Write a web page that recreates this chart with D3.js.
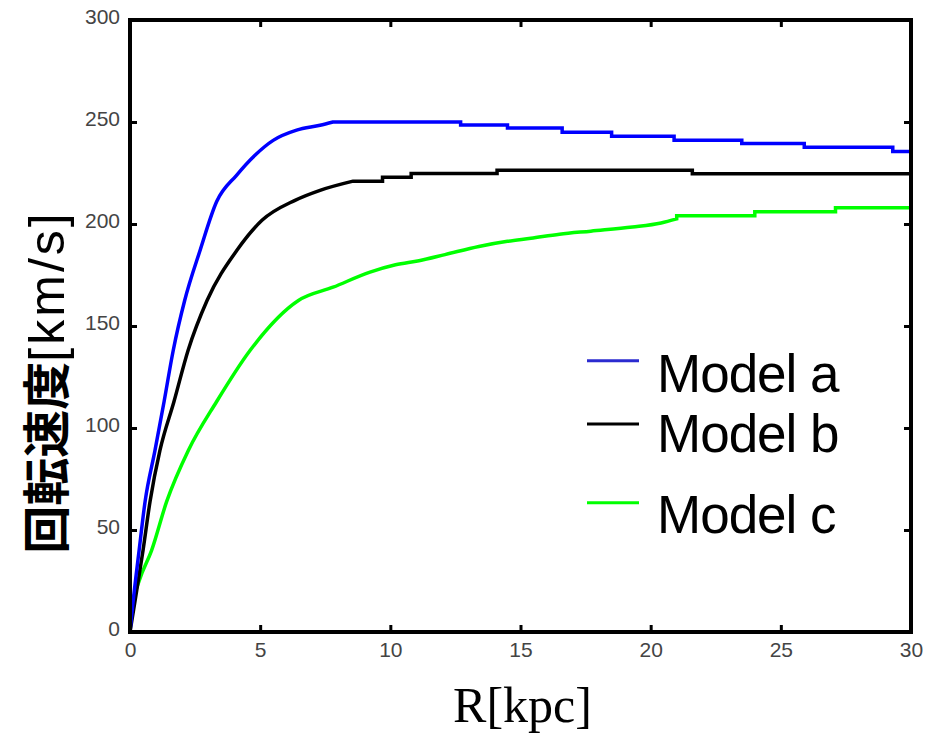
<!DOCTYPE html>
<html>
<head>
<meta charset="utf-8">
<script src="https://cdn.jsdelivr.net/npm/d3@7"></script>
<style>
  body { margin: 0; background: #fff; }
</style>
</head>
<body>
<script>
// rotation curves
// rising part (smooth) ...
var modelA_R = [0, 0.12, 0.35, 0.58, 0.96, 1.31, 1.66, 2.1, 2.69, 3.33, 4.1, 4.8, 5.5, 6.4, 7.3, 7.8];
var modelA_V = [0, 15, 40, 64, 89, 113, 138, 162.5, 187, 211, 224, 233.7, 241, 246, 248.4, 250];
// ... then the flat stepped part (each value holds until the next R)
var modelA_stepR = [7.8, 12.7, 14.5, 16.6, 18.5, 20.9, 23.5, 25.9, 29.3, 30];
var modelA_stepV = [250, 248.5, 247, 245, 243, 241, 239.5, 237.6, 235.6, 235.6];

var modelB_R = [0, 0.19, 0.5, 0.77, 1.15, 1.69, 2.23, 2.96, 4.1, 5.07, 6.34, 7.3, 8.57];
var modelB_V = [0, 15, 40, 64, 89, 113, 138, 162.5, 187, 201.8, 211.6, 216.5, 221];
var modelB_stepR = [8.57, 9.7, 10.8, 14.1, 21.6, 30];
var modelB_stepV = [221, 222.9, 224.8, 226.3, 224.6, 224.6];

var modelC_R = [0, 0.06, 0.35, 0.83, 1.41, 2.24, 3.33, 4.61, 6.47, 7.8, 9.22, 10.2, 11.1, 12.1, 13.4,
  14.5, 15.4, 16.5, 17.7, 19.3, 20.4, 21];
var modelC_V = [0, 11, 25, 40, 64, 89, 113, 138, 162.5, 169, 176.4, 180, 182, 185, 189,
  191.5, 193, 195, 196.5, 198.5, 200.5, 202.5];
var modelC_stepR = [21, 24, 27.1, 30];
var modelC_stepV = [204, 206, 208, 208];

var xTicks = [0, 5, 10, 15, 20, 25, 30];
var yTicks = [0, 50, 100, 150, 200, 250, 300];
var legendNames = ["Model a", "Model b", "Model c"];
var lineColors = ["#0000ff", "#000000", "#00ff00"];
var legendColors = ["#2b2bd0", "#000000", "#00ff00"];

const W = 930, H = 737;
const margin = {top: 20, right: 19, bottom: 105, left: 130},
      width = W - margin.left - margin.right,
      height = H - margin.top - margin.bottom;

var svg = d3.select("body").append("svg")
  .attr("width", W)
  .attr("height", H)
  .append("g")
  .attr("transform", "translate(" + margin.left + "," + margin.top + ")");

var x = d3.scaleLinear().domain([0, 30]).range([0, width]);
var y = d3.scaleLinear().domain([0, 300]).range([height, 0]);

var tickFont = "'Liberation Sans Narrow', 'Liberation Sans', Arial, sans-serif";

// ticks inward on all four sides
function styleAxis(g) {
  g.select(".domain").remove();
  g.selectAll(".tick line").attr("stroke", "#000").attr("stroke-width", 3);
  g.selectAll(".tick text").attr("font-family", tickFont).attr("font-size", 21).attr("fill", "#444");
}

svg.append("g")
  .attr("transform", "translate(0," + height + ")")
  .call(d3.axisBottom(x).tickValues(xTicks).tickSize(-7).tickPadding(10))
  .call(styleAxis);
svg.append("g")
  .call(d3.axisTop(x).tickValues(xTicks).tickSize(-7).tickFormat(""))
  .call(styleAxis);
svg.append("g")
  .call(d3.axisLeft(y).tickValues(yTicks).tickSize(-7).tickPadding(10))
  .call(styleAxis)
  .selectAll(".tick text").attr("dy", "0.15em");
svg.append("g")
  .attr("transform", "translate(" + width + ",0)")
  .call(d3.axisRight(y).tickValues(yTicks).tickSize(-7).tickFormat(""))
  .call(styleAxis);

svg.append("clipPath").attr("id", "plotclip")
  .append("rect").attr("x", 0).attr("y", -3).attr("width", width).attr("height", height + 3);

var smoothLine = d3.line()
  .curve(d3.curveMonotoneX)
  .x(function(d) { return x(d[0]); })
  .y(function(d) { return y(d[1]); });
var stepLine = d3.line()
  .curve(d3.curveStepAfter)
  .x(function(d) { return x(d[0]); })
  .y(function(d) { return y(d[1]); });

var series = [
  {rise: d3.zip(modelA_R, modelA_V), steps: d3.zip(modelA_stepR, modelA_stepV)},
  {rise: d3.zip(modelB_R, modelB_V), steps: d3.zip(modelB_stepR, modelB_stepV)},
  {rise: d3.zip(modelC_R, modelC_V), steps: d3.zip(modelC_stepR, modelC_stepV)}
];

// green first so blue and black sit on top
[2, 1, 0].forEach(function(i) {
  var s = series[i];
  var last = s.rise[s.rise.length - 1];
  // join the smooth part onto the first step
  var steps = [last].concat(s.steps.slice(1)[0][0] === last[0] ? s.steps.slice(1) : s.steps);
  var d = smoothLine(s.rise) + stepLine(steps).replace(/^M/, "L");
  svg.append("path")
    .attr("clip-path", "url(#plotclip)")
    .attr("fill", "none")
    .attr("stroke", lineColors[i])
    .attr("stroke-width", 3.5)
    .attr("stroke-linejoin", "miter")
    .attr("d", d);
});

// frame
svg.append("rect")
  .attr("x", 0).attr("y", 0)
  .attr("width", width).attr("height", height)
  .attr("fill", "none")
  .attr("stroke", "#000")
  .attr("stroke-width", 4);

// legend
var legY = [340.7, 404, 482.7];
var legTextY = [372, 432, 513];
var legend = svg.append("g");
legendNames.forEach(function(name, i) {
  legend.append("line")
    .attr("x1", 457).attr("x2", 509)
    .attr("y1", legY[i]).attr("y2", legY[i])
    .attr("stroke", legendColors[i])
    .attr("stroke-width", 3);
  legend.append("text")
    .attr("x", 527).attr("y", legTextY[i])
    .attr("font-family", "'Liberation Sans', Arial, sans-serif")
    .attr("font-size", 53)
    .attr("letter-spacing", -1)
    .attr("fill", "#000")
    .text(name);
});

// axis titles
svg.append("text")
  .attr("x", x(15) + 2)
  .attr("y", 702)
  .attr("text-anchor", "middle")
  .attr("font-family", "'Liberation Serif', 'Times New Roman', serif")
  .attr("font-size", 50)
  .text("R[kpc]");

var ylab = svg.append("text")
  .attr("transform", "translate(" + (64 - margin.left) + "," + (382 - margin.top) + ") rotate(-90)")
  .attr("text-anchor", "middle")
  .attr("fill", "#000");
ylab.append("tspan")
  .attr("font-family", "'Noto Sans CJK JP', sans-serif")
  .attr("font-weight", "bold")
  .attr("font-size", 48)
  .text("回転速度");
ylab.append("tspan")
  .attr("font-family", "'Liberation Sans', Arial, sans-serif")
  .attr("font-size", 50)
  .attr("letter-spacing", 3)
  .text("[km/s]");
</script>
</body>
</html>
